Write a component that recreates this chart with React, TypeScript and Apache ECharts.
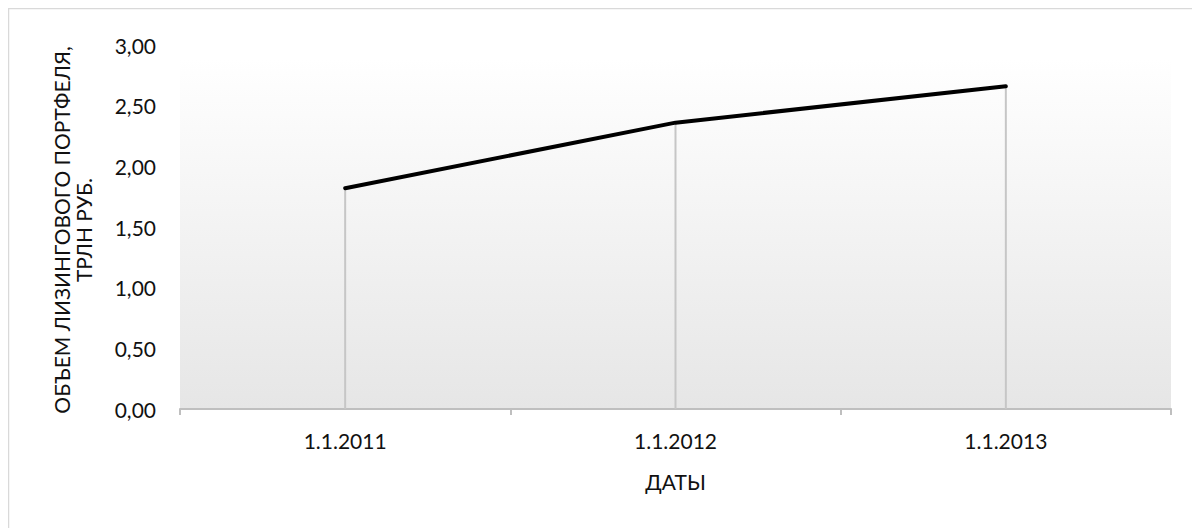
import React, { useEffect, useRef } from "react";
import * as echarts from "echarts";

const categories = ["1.1.2011", "1.1.2012", "1.1.2013"];
const portfolio = [1.82, 2.36, 2.66];
const yTitleLines = ["ОБЪЕМ ЛИЗИНГОВОГО ПОРТФЕЛЯ,", "ТРЛН РУБ."];
const xTitle = "ДАТЫ";

const FONT = "Lato, 'Noto Sans', sans-serif";

export default function App() {
  const ref = useRef<HTMLDivElement>(null);
  useEffect(() => {
    if (!ref.current) return;
    const chart = echarts.init(ref.current, undefined, { renderer: "svg" });
    chart.setOption({
      animation: false,
      textStyle: { fontFamily: FONT },
      grid: { left: 172, top: 37, right: 29, bottom: 119, show: false },
      graphic: [
        {
          type: "rect",
          z: -10,
          shape: { x: 0.5, y: 0.5, width: 1400, height: 800 },
          style: { fill: "none", stroke: "#d9d9d9", lineWidth: 1.5 },
          silent: true,
        },
        {
          type: "rect",
          z: -5,
          shape: { x: 172, y: 50, width: 991, height: 351 },
          style: {
            fill: new echarts.graphic.LinearGradient(0, 0, 0, 1, [
              { offset: 0, color: "#ffffff" },
              { offset: 1, color: "#e6e6e6" },
            ]),
          },
          silent: true,
        },
        {
          type: "text",
          x: 64,
          y: 222,
          rotation: Math.PI / 2,
          style: {
            text: yTitleLines.join("\n"),
            fontFamily: FONT,
            fontSize: 21,
            lineHeight: 22,
            fill: "#111111",
            align: "center",
            verticalAlign: "middle",
          },
        },
      ],
      xAxis: {
        type: "category",
        data: categories,
        boundaryGap: true,
        name: xTitle,
        nameLocation: "middle",
        nameGap: 62,
        nameTextStyle: { fontSize: 21, color: "#111111", fontFamily: FONT },
        axisLine: { show: true, lineStyle: { color: "#bfbfbf", width: 2 } },
        axisTick: { show: true, length: 6, lineStyle: { color: "#bfbfbf", width: 2 } },
        axisLabel: { fontSize: 21, color: "#111111", margin: 21, fontFamily: FONT },
        splitLine: { show: false },
      },
      yAxis: {
        type: "value",
        min: 0,
        max: 3,
        interval: 0.5,
        axisLine: { show: false },
        axisTick: { show: false },
        splitLine: { show: false },
        axisLabel: {
          fontSize: 21,
          color: "#111111",
          margin: 24,
          fontFamily: FONT,
          formatter: (v: number) => v.toFixed(2).replace(".", ","),
        },
      },
      series: [
        {
          type: "bar",
          data: portfolio,
          barWidth: 2,
          itemStyle: { color: "#c6c6c6" },
          silent: true,
          z: 1,
        },
        {
          type: "line",
          data: portfolio,
          showSymbol: false,
          symbol: "none",
          lineStyle: { color: "#000000", width: 4, cap: "round", join: "round" },
          z: 3,
        },
      ],
    });
    return () => chart.dispose();
  }, []);
  return <div ref={ref} style={{ width: 1192, height: 520 }} />;
}
